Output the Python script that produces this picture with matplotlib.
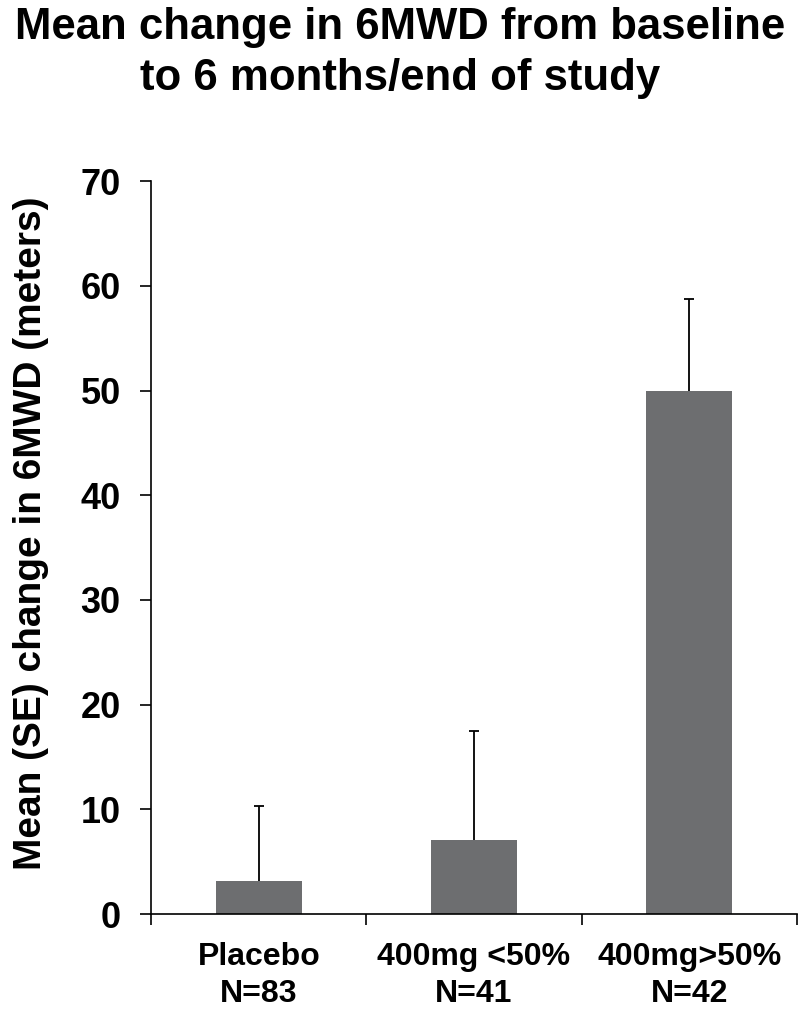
import numpy as np
import matplotlib.pyplot as plt

plt.rcParams['font.family'] = ['Liberation Sans', 'DejaVu Sans']
plt.rcParams['font.weight'] = 'bold'

# Data.
groups = ['Placebo\nN=83', '400mg <50%\nN=41', '400mg>50%\nN=42']
means = [3.2, 7.1, 50.0]
se = [7.1, 10.4, 8.7]
yticks = [0, 10, 20, 30, 40, 50, 60, 70]

bar_color = '#6d6e70'

fig = plt.figure(figsize=(8, 10.26), dpi=100)
ax = fig.add_axes([0.189, 0.109, 0.807, 0.7145])

x = np.arange(len(groups))
ax.bar(x, means, width=0.4, color=bar_color, zorder=2)

# Upper-only error bars with a cap on top.
tops = np.array(means) + np.array(se)
ax.vlines(x, means, tops, color='black', linewidth=1.3, zorder=3)
ax.scatter(x, tops, marker='_', s=60, color='black', linewidths=1.3, zorder=3)

ax.set_xlim(-0.5, 2.5)
ax.set_ylim(0, 70)
ax.set_yticks(yticks)
ax.set_yticklabels([str(t) for t in yticks], fontsize=26, fontweight='bold')

ax.set_xticks([-0.5, 0.5, 1.5, 2.5])
ax.set_xticklabels([])
ax.set_xticks(x, minor=True)
ax.set_xticklabels(groups, minor=True, fontsize=23, fontweight='bold', linespacing=1.3)
ax.tick_params(axis='x', which='minor', length=0, pad=20)
ax.tick_params(axis='x', which='major', length=8, width=1.2)
ax.tick_params(axis='y', length=8, width=1.2, pad=14)

for side in ['top', 'right']:
    ax.spines[side].set_visible(False)
for side in ['left', 'bottom']:
    ax.spines[side].set_linewidth(1.2)

ax.set_ylabel('Mean (SE) change in 6MWD (meters)', fontsize=28, fontweight='bold')
ax.yaxis.set_label_coords(-0.158, 0.52)

fig.text(0.5, 0.993, 'Mean change in 6MWD from baseline\nto 6 months/end of study',
         ha='center', va='top', fontsize=31.5, fontweight='bold', linespacing=1.3)

fig.savefig('out.png', dpi=100)
